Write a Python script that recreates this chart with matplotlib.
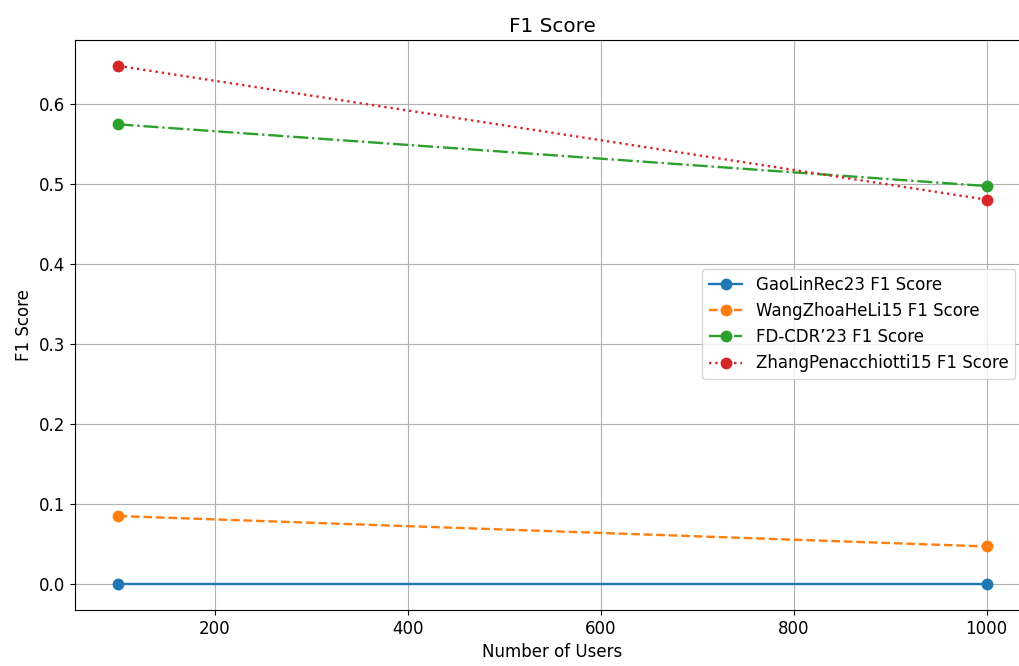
import matplotlib
matplotlib.use("Agg")
import matplotlib.pyplot as plt

# number of users
users = [100, 1000]

# F1 scores
gaolin = [0.0, 0.0]
wangzhoa = [0.085, 0.047]
fdcdr = [0.574, 0.497]
zhang = [0.647, 0.480]

plt.rcParams['font.size'] = 12
plt.rcParams['lines.markersize'] = 7.5
plt.rcParams['lines.linewidth'] = 1.7

fig = plt.figure(figsize=(10.2, 6.66), dpi=100)
ax = fig.add_axes([75 / 1020, 56 / 666, 955 / 1020, 570 / 666])

ax.plot(users, gaolin, marker='o', linestyle='-', label='GaoLinRec23 F1 Score')
ax.plot(users, wangzhoa, marker='o', linestyle='--', label='WangZhoaHeLi15 F1 Score')
ax.plot(users, fdcdr, marker='o', linestyle='-.', label='FD-CDR\u201923 F1 Score')
ax.plot(users, zhang, marker='o', linestyle=':', label='ZhangPenacchiotti15 F1 Score')

ax.set_title('F1 Score')
ax.set_xlabel('Number of Users')
ax.set_ylabel('F1 Score')
ax.legend(loc='center right', bbox_to_anchor=(1015 / 1020, 342 / 666),
          bbox_transform=fig.transFigure, borderaxespad=0)
ax.grid(True)

fig.savefig('out.png', dpi=100)
